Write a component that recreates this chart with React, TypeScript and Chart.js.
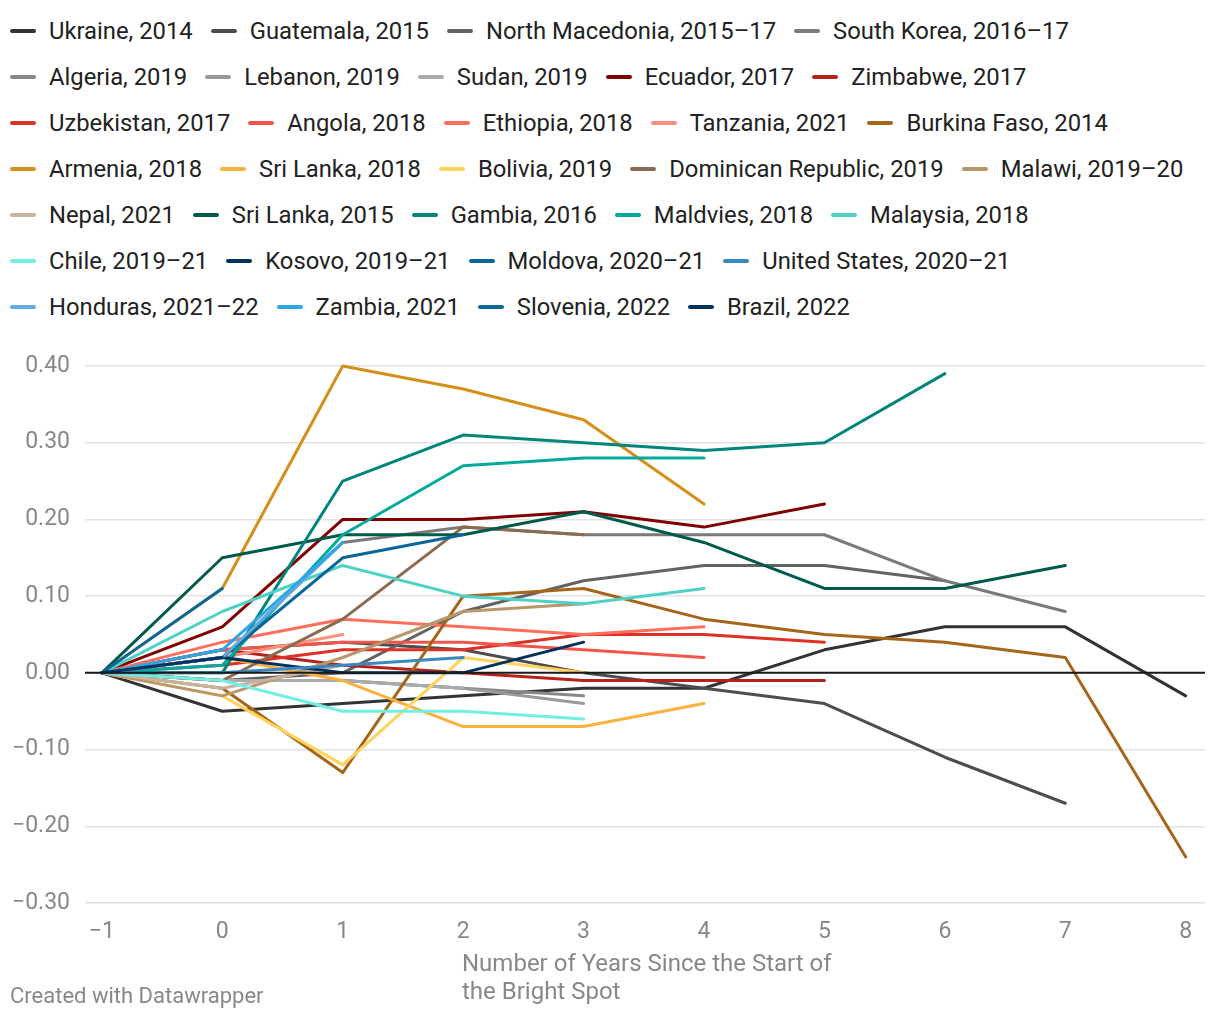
import React, { useEffect, useRef } from "react";
import { Chart, registerables } from "chart.js";

Chart.register(...registerables);

// x positions: years since start of the bright spot
const years = [-1, 0, 1, 2, 3, 4, 5, 6, 7, 8];
const yTicks = [-0.3, -0.2, -0.1, 0, 0.1, 0.2, 0.3, 0.4];

const seriesNames = [
  "Ukraine, 2014", "Guatemala, 2015", "North Macedonia, 2015–17", "South Korea, 2016–17",
  "Algeria, 2019", "Lebanon, 2019", "Sudan, 2019", "Ecuador, 2017", "Zimbabwe, 2017",
  "Uzbekistan, 2017", "Angola, 2018", "Ethiopia, 2018", "Tanzania, 2021", "Burkina Faso, 2014",
  "Armenia, 2018", "Sri Lanka, 2018", "Bolivia, 2019", "Dominican Republic, 2019", "Malawi, 2019–20",
  "Nepal, 2021", "Sri Lanka, 2015", "Gambia, 2016", "Maldvies, 2018", "Malaysia, 2018",
  "Chile, 2019–21", "Kosovo, 2019–21", "Moldova, 2020–21", "United States, 2020–21",
  "Honduras, 2021–22", "Zambia, 2021", "Slovenia, 2022", "Brazil, 2022",
];

const seriesColors = [
  "#333333", "#4d4d4d", "#636363", "#7a7a7a",
  "#888888", "#9a9a9a", "#ababab", "#800000", "#b5211b",
  "#dc3124", "#f4554a", "#ff6f5c", "#ff9080", "#a5661b",
  "#d4901a", "#fbb03f", "#ffd35c", "#8c6a4f", "#b8976a",
  "#c9b29e", "#005a4b", "#00857a", "#00a99b", "#4fd1c5",
  "#70efe2", "#00305c", "#0a659b", "#3a88c0",
  "#62abe2", "#2ea7e6", "#0e6799", "#033363",
];

const ukraine2014 = [0, -0.05, -0.04, -0.03, -0.02, -0.02, 0.03, 0.06, 0.06, -0.03];
const guatemala2015 = [0, 0.03, 0.04, 0.03, 0.0, -0.02, -0.04, -0.11, -0.17];
const northMacedonia = [0, -0.01, 0.0, 0.08, 0.12, 0.14, 0.14, 0.12];
const southKorea = [0, 0.02, 0.17, 0.19, 0.18, 0.18, 0.18, 0.12, 0.08];
const algeria2019 = [0, -0.01, -0.01, -0.02, -0.03];
const lebanon2019 = [0, -0.01, -0.01, -0.02, -0.04];
const sudan2019 = [0, -0.01, -0.01, -0.02];
const ecuador2017 = [0, 0.06, 0.2, 0.2, 0.21, 0.19, 0.22];
const zimbabwe2017 = [0, 0.03, 0.01, 0.0, -0.01, -0.01, -0.01];
const uzbekistan2017 = [0, 0.01, 0.03, 0.03, 0.05, 0.05, 0.04];
const angola2018 = [0, 0.03, 0.04, 0.04, 0.03, 0.02];
const ethiopia2018 = [0, 0.04, 0.07, 0.06, 0.05, 0.06];
const tanzania2021 = [0, 0.02, 0.05];
const burkinaFaso2014 = [0, -0.02, -0.13, 0.1, 0.11, 0.07, 0.05, 0.04, 0.02, -0.24];
const armenia2018 = [0, 0.11, 0.4, 0.37, 0.33, 0.22];
const sriLanka2018 = [0, 0.02, -0.01, -0.07, -0.07, -0.04];
const bolivia2019 = [0, -0.03, -0.12, 0.02, 0.0];
const dominicanRep2019 = [0, -0.01, 0.07, 0.19, 0.18];
const malawi2019 = [0, -0.03, 0.02, 0.08, 0.09];
const nepal2021 = [0, -0.02, 0.01];
const sriLanka2015 = [0, 0.15, 0.18, 0.18, 0.21, 0.17, 0.11, 0.11, 0.14];
const gambia2016 = [0, 0.0, 0.25, 0.31, 0.3, 0.29, 0.3, 0.39];
const maldives2018 = [0, 0.01, 0.18, 0.27, 0.28, 0.28];
const malaysia2018 = [0, 0.08, 0.14, 0.1, 0.09, 0.11];
const chile2019 = [0, -0.01, -0.05, -0.05, -0.06];
const kosovo2019 = [0, 0.02, 0.0, 0.0, 0.04];
const moldova2020 = [0, 0.02, 0.15, 0.18];
const unitedStates2020 = [0, 0.0, 0.01, 0.02];
const honduras2021 = [0, 0.02, 0.17];
const zambia2021 = [0, 0.03, 0.17];
const slovenia2022 = [0, 0.11];
const brazil2022 = [0, 0.02];

const seriesValues = [
  ukraine2014, guatemala2015, northMacedonia, southKorea, algeria2019, lebanon2019, sudan2019,
  ecuador2017, zimbabwe2017, uzbekistan2017, angola2018, ethiopia2018, tanzania2021, burkinaFaso2014,
  armenia2018, sriLanka2018, bolivia2019, dominicanRep2019, malawi2019, nepal2021, sriLanka2015,
  gambia2016, maldives2018, malaysia2018, chile2019, kosovo2019, moldova2020, unitedStates2020,
  honduras2021, zambia2021, slovenia2022, brazil2022,
];

const fmt = (v: number) => (Math.abs(v) < 1e-9 ? "0.00" : v.toFixed(2).replace("-", "\u2212"));
const fmtX = (v: number) => String(v).replace("-", "\u2212");

const overlay = {
  id: "overlay",
  afterDatasetsDraw(chart: any) {
    const { ctx, chartArea, scales } = chart;
    const py = scales.y.getPixelForValue(0);
    ctx.save();
    ctx.strokeStyle = "#1a1a1a";
    ctx.lineWidth = 2;
    ctx.beginPath();
    ctx.moveTo(chartArea.left, py);
    ctx.lineTo(chartArea.right, py);
    ctx.stroke();
    ctx.restore();
  },
  afterDraw(chart: any) {
    const { ctx } = chart;
    ctx.save();
    ctx.fillStyle = "#888888";
    ctx.textAlign = "left";
    ctx.textBaseline = "middle";
    ctx.font = "24px Roboto";
    ctx.fillText("Number of Years Since the Start of", 462, 635);
    ctx.fillText("the Bright Spot", 462, 663);
    ctx.font = "22px Roboto";
    ctx.fillText("Created with Datawrapper", 10, 667);
    ctx.restore();
  },
};

export default function App() {
  const ref = useRef<HTMLCanvasElement | null>(null);

  useEffect(() => {
    if (!ref.current) return;
    const datasets = seriesValues.map((vals, i) => ({
      label: seriesNames[i],
      data: vals.map((v, j) => ({ x: years[j], y: v })),
      borderColor: seriesColors[i],
      backgroundColor: seriesColors[i],
      borderWidth: 3,
      pointRadius: 0,
      borderCapStyle: "round" as const,
      borderJoinStyle: "round" as const,
      tension: 0,
      fill: false,
      order: -i,
      clip: false as any,
    }));
    const chart = new Chart(ref.current, {
      type: "line",
      data: { datasets },
      options: {
        animation: false,
        responsive: false,
        devicePixelRatio: 1,
        layout: { padding: { top: 36, right: 15, left: 0, bottom: 0 } },
        plugins: { legend: { display: false }, tooltip: { enabled: false } },
        scales: {
          x: {
            type: "linear",
            min: -1.14,
            max: 8.16,
            grid: { display: false, drawTicks: false },
            border: { display: false },
            afterBuildTicks: (s: any) => {
              s.ticks = years.map((v) => ({ value: v }));
            },
            afterFit: (s: any) => {
              s.height = 117;
            },
            ticks: {
              padding: 15,
              color: "#888888",
              font: { family: "Roboto", size: 23 },
              maxRotation: 0,
              autoSkip: false,
              callback: (v: any) => fmtX(Number(v)),
            },
          },
          y: {
            type: "linear",
            min: -0.3,
            max: 0.4,
            afterBuildTicks: (s: any) => {
              s.ticks = yTicks.map((v) => ({ value: v }));
            },
            afterFit: (s: any) => {
              s.width = 85;
            },
            grid: {
              drawTicks: false,
              color: "#e2e2e2",
              lineWidth: 1.5,
            },
            border: { display: false },
            ticks: {
              padding: 15,
              color: "#888888",
              font: { family: "Roboto", size: 23 },
              callback: (v: any) => fmt(Number(v)),
            },
          },
        },
      },
      plugins: [overlay],
    });
    return () => chart.destroy();
  }, []);

  return (
    <div style={{ margin: "-8px -8px 0 -8px", width: 1220, background: "#fff" }}>
      <div
        style={{
          display: "flex",
          flexWrap: "wrap",
          padding: "8px 0 0 10px",
          fontFamily: "Roboto",
          fontSize: 23.8,
          color: "#222222",
          boxSizing: "border-box",
          width: 1220,
        }}
      >
        {seriesNames.map((n, i) => (
          <div key={i} style={{ display: "flex", alignItems: "center", height: 46, marginRight: 18, whiteSpace: "nowrap" }}>
            <span style={{ display: "inline-block", width: 26, height: 4, borderRadius: 2, background: seriesColors[i], marginRight: 13 }} />
            <span>{n}</span>
          </div>
        ))}
      </div>
      <canvas ref={ref} width={1220} height={690} style={{ display: "block", width: 1220, height: 690 }} />
    </div>
  );
}
